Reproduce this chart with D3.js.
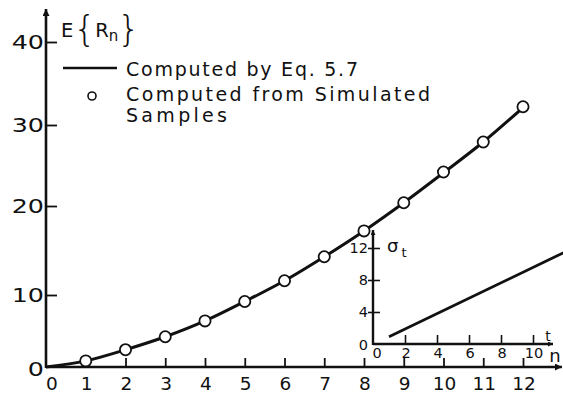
<!DOCTYPE html>
<html>
<head>
<meta charset="utf-8">
<script src="https://cdn.jsdelivr.net/npm/d3@7"></script>
<style>
  html, body { margin: 0; padding: 0; background: #fff; }
  svg { display: block; }
  text { font-family: "DejaVu Sans", sans-serif; fill: #111; }
</style>
</head>
<body>
<svg id="chart" width="563" height="396"></svg>
<script>
// Expected range E{R_n} versus n
const nValues = [1, 2, 3, 4, 5, 6, 7, 8, 9, 10, 11, 12];
const simulatedR = [0.85, 2.4, 4.2, 6.4, 9.1, 11.6, 14.3, 17.2, 20.4, 24.2, 27.9, 32.2];
const curveN = [0, 1, 2, 3, 4, 5, 6, 7, 8, 9, 10, 11, 12];
const computedR = [0, 0.85, 2.4, 4.2, 6.4, 9.1, 11.6, 14.3, 17.2, 20.4, 24.1, 27.9, 32.1];
const xTicks = [0, 1, 2, 3, 4, 5, 6, 7, 8, 9, 10, 11, 12];
const yTicks = [0, 10, 20, 30, 40];

// Inset: sigma_t versus t
const insetT = [1, 12];
const insetSigma = [0.9, 11.5];
const insetXTicks = [0, 2, 4, 6, 8, 10];
const insetYTicks = [0, 4, 8, 12];

const legendLabels = ["Computed by Eq. 5.7", "Computed from Simulated", "Samples"];

const svg = d3.select("#chart");
const ink = "#111";

// Main scales (the hand-lettered axis is slightly uneven, so y is piecewise)
const x = d3.scaleLinear().domain([0, 12]).range([46, 523]);
const y = d3.scaleLinear().domain([0, 10, 20, 30, 40]).range([367, 295, 206, 125, 42]);

// Arrow head markers
const defs = svg.append("defs");
function arrowMarker(id, w, h) {
  defs.append("marker")
    .attr("id", id)
    .attr("viewBox", "0 0 10 10")
    .attr("refX", 10).attr("refY", 5)
    .attr("markerUnits", "userSpaceOnUse")
    .attr("markerWidth", w).attr("markerHeight", h)
    .attr("orient", "auto")
    .append("path").attr("d", "M0,0 L10,5 L0,10 Z").attr("fill", ink);
}
arrowMarker("arrow", 16, 7);
arrowMarker("arrowSmall", 11, 5);

// Main axes
const xAxis = d3.axisBottom(x).tickValues(xTicks.slice(1)).tickSize(-9).tickFormat("");
svg.append("g").attr("transform", `translate(0,${y(0)})`).call(xAxis)
  .call(g => g.select(".domain").remove())
  .call(g => g.selectAll(".tick line").attr("stroke", ink).attr("stroke-width", 1.8));

const yAxis = d3.axisLeft(y).tickValues(yTicks.slice(1)).tickSize(-11).tickFormat("");
svg.append("g").attr("transform", `translate(${x(0)},0)`).call(yAxis)
  .call(g => g.select(".domain").remove())
  .call(g => g.selectAll(".tick line").attr("stroke", ink).attr("stroke-width", 1.8).attr("x1", -1));

svg.append("line")
  .attr("x1", x(0)).attr("y1", y(0)).attr("x2", 562).attr("y2", y(0))
  .attr("stroke", ink).attr("stroke-width", 2.6).attr("marker-end", "url(#arrow)");
svg.append("line")
  .attr("x1", x(0)).attr("y1", y(0) + 1).attr("x2", x(0)).attr("y2", 9)
  .attr("stroke", ink).attr("stroke-width", 2.6).attr("marker-end", "url(#arrow)");

// Tick labels
svg.append("g").selectAll("text").data(xTicks).join("text")
  .attr("x", d => x(d) + (d === 0 ? 6 : 1))
  .attr("y", 390)
  .attr("text-anchor", "middle")
  .attr("font-size", 18.5)
  .text(d => d);

// y labels use the wide lettering of the axis, so they are stretched sideways
svg.append("g").selectAll("text").data(yTicks).join("text")
  .attr("transform", d => `translate(44,${y(d) + (d === 0 ? 9 : 7)}) scale(1.3,1)`)
  .attr("text-anchor", "end")
  .attr("font-size", 19.5)
  .text(d => d);

// Axis titles
const title = svg.append("text").attr("x", 61).attr("y", 37).attr("font-size", 19.5);
title.append("tspan").text("E");
title.append("tspan").attr("font-size", 36).attr("dy", 4).attr("font-weight", 200).text("{");
title.append("tspan").attr("dy", -4).attr("dx", -1).text("R");
title.append("tspan").attr("font-size", 15).attr("dy", 4).text("n");
title.append("tspan").attr("font-size", 36).attr("dy", 0).attr("dx", -1).attr("font-weight", 200).text("}");

svg.append("text").attr("x", 555).attr("y", 362).attr("text-anchor", "middle")
  .attr("font-size", 18).text("n");

// Computed curve
const line = d3.line()
  .x((d, i) => x(curveN[i]))
  .y(d => y(d))
  .curve(d3.curveCatmullRom);
svg.append("path").datum(computedR)
  .attr("d", line)
  .attr("fill", "none").attr("stroke", ink).attr("stroke-width", 3);

// Simulated sample points
svg.append("g").selectAll("circle").data(simulatedR).join("circle")
  .attr("cx", (d, i) => x(nValues[i]))
  .attr("cy", d => y(d))
  .attr("r", 5.6)
  .attr("fill", "#fff").attr("stroke", ink).attr("stroke-width", 1.8);

// Legend
svg.append("line").attr("x1", 63).attr("x2", 117).attr("y1", 68).attr("y2", 68)
  .attr("stroke", ink).attr("stroke-width", 2.6);
svg.append("circle").attr("cx", 92).attr("cy", 96).attr("r", 4)
  .attr("fill", "#fff").attr("stroke", ink).attr("stroke-width", 1.6);
const legendRows = [
  { text: legendLabels[0], y: 76, len: 232 },
  { text: legendLabels[1], y: 101, len: 304 },
  { text: legendLabels[2], y: 122, len: 101 }
];
svg.append("g").selectAll("text").data(legendRows).join("text")
  .attr("x", 126).attr("y", d => d.y)
  .attr("font-size", 19)
  .attr("textLength", d => d.len)
  .attr("lengthAdjust", "spacing")
  .text(d => d.text);

// Inset chart
const ix = d3.scaleLinear().domain([0, 10]).range([373, 533]);
const iy = d3.scaleLinear().domain([0, 12]).range([344, 248]);

const ixAxis = d3.axisBottom(ix).tickValues(insetXTicks.slice(1)).tickSize(-9).tickFormat("");
svg.append("g").attr("transform", `translate(0,${iy(0)})`).call(ixAxis)
  .call(g => g.select(".domain").remove())
  .call(g => g.selectAll(".tick line").attr("stroke", ink).attr("stroke-width", 1.6));
const iyAxis = d3.axisLeft(iy).tickValues(insetYTicks.slice(1)).tickSize(-7).tickFormat("");
svg.append("g").attr("transform", `translate(${ix(0)},0)`).call(iyAxis)
  .call(g => g.select(".domain").remove())
  .call(g => g.selectAll(".tick line").attr("stroke", ink).attr("stroke-width", 1.6).attr("x1", -5));

svg.append("line")
  .attr("x1", ix(0)).attr("y1", iy(0)).attr("x2", 553).attr("y2", iy(0))
  .attr("stroke", ink).attr("stroke-width", 2.4).attr("marker-end", "url(#arrowSmall)");
svg.append("line")
  .attr("x1", ix(0)).attr("y1", iy(0) + 1).attr("x2", ix(0)).attr("y2", 230)
  .attr("stroke", ink).attr("stroke-width", 2.4).attr("marker-end", "url(#arrowSmall)");

svg.append("g").selectAll("text").data(insetXTicks).join("text")
  .attr("x", d => ix(d) + (d === 0 ? 4 : 1))
  .attr("y", 358)
  .attr("text-anchor", "middle")
  .attr("font-size", 14.5)
  .text(d => d);
svg.append("g").selectAll("text").data(insetYTicks).join("text")
  .attr("x", 368)
  .attr("y", d => iy(d) + (d === 0 ? 6 : 5))
  .attr("text-anchor", "end")
  .attr("font-size", 14.5)
  .text(d => d);

const sigma = svg.append("text").attr("x", 387).attr("y", 252).attr("font-size", 18);
sigma.append("tspan").text("σ");
sigma.append("tspan").attr("font-size", 13).attr("dy", 5).attr("dx", 3).text("t");
svg.append("text").attr("x", 548).attr("y", 341).attr("text-anchor", "middle")
  .attr("font-size", 14).text("t");

svg.append("path").datum(insetSigma)
  .attr("d", d3.line().x((d, i) => ix(insetT[i])).y(d => iy(d)))
  .attr("fill", "none").attr("stroke", ink).attr("stroke-width", 2.8);
</script>
</body>
</html>
